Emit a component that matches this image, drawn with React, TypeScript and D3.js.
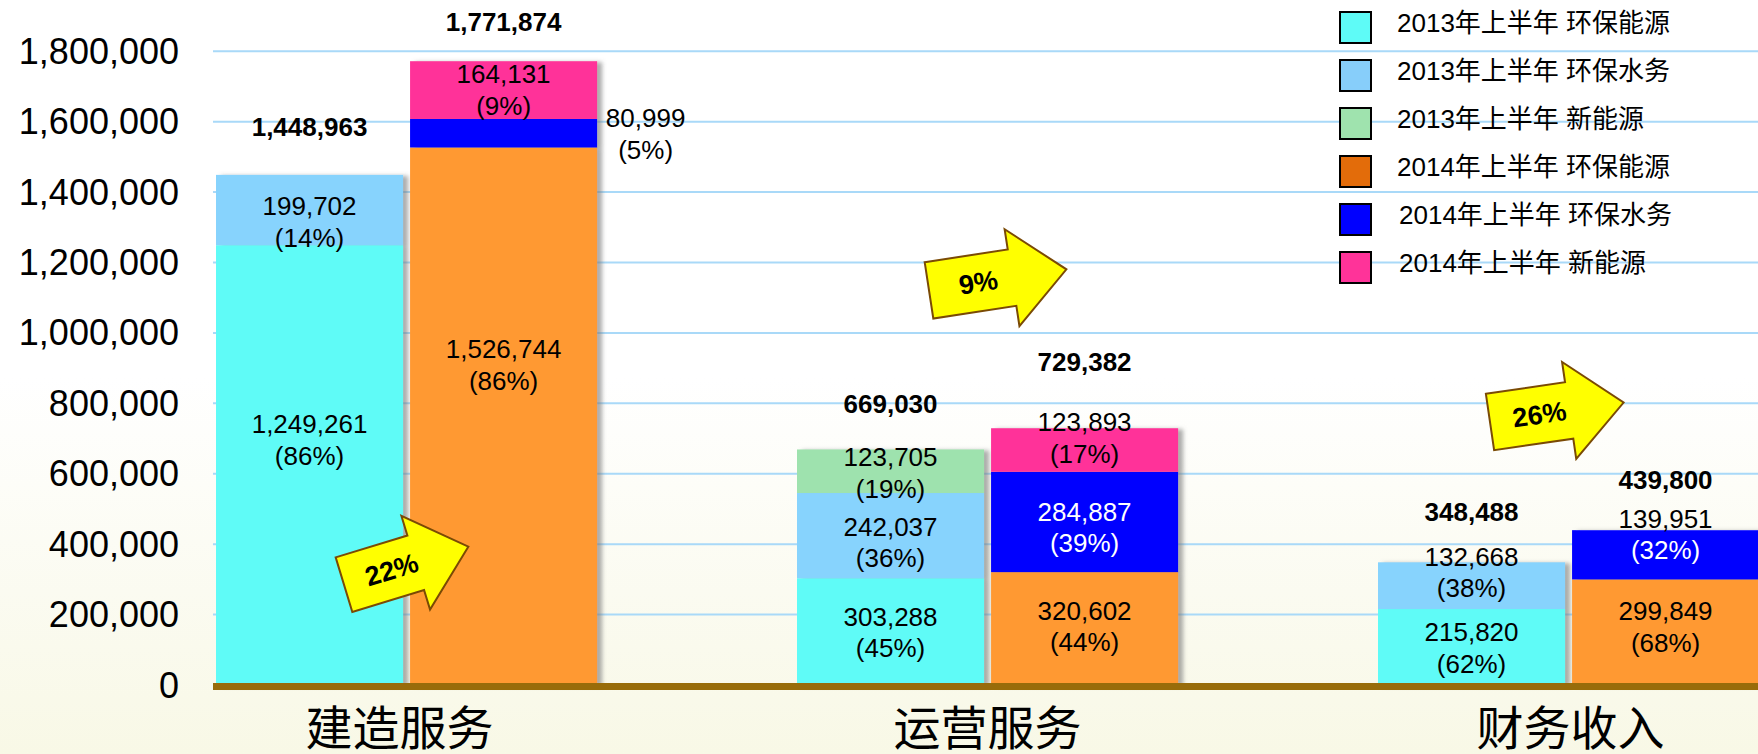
import React from 'react';
import * as d3 from 'd3';

// ---------- data ----------
const categories = ['建造服务', '运营服务', '财务收入'];
const years = ['2013', '2014'];

const env2013 = [1249261, 303288, 215820];
const water2013 = [199702, 242037, 132668];
const newEnergy2013 = [0, 123705, 0];
const env2014 = [1526744, 320602, 299849];
const water2014 = [80999, 284887, 139951];
const newEnergy2014 = [164131, 123893, 0];

const pctEnv2013 = [86, 45, 62];
const pctWater2013 = [14, 36, 38];
const pctNew2013 = [0, 19, 0];
const pctEnv2014 = [86, 44, 68];
const pctWater2014 = [5, 39, 32];
const pctNew2014 = [9, 17, 0];

const yTicks = [0, 200000, 400000, 600000, 800000, 1000000, 1200000, 1400000, 1600000, 1800000];

const legendLabels = [
  '2013年上半年 环保能源',
  '2013年上半年 环保水务',
  '2013年上半年 新能源',
  '2014年上半年 环保能源',
  '2014年上半年 环保水务',
  '2014年上半年 新能源',
];

// ---------- styling ----------
const W = 1758;
const H = 754;
const FONT = "'Liberation Sans', Arial, 'Noto Sans CJK SC', sans-serif";
const CJK = "'Noto Sans CJK SC', sans-serif";

const barColors = ['#5EFBF7', '#87D3FD', '#9EE2AE', '#FF9933', '#0000FF', '#FF3399'];
const legendColors = ['#5EFBF7', '#87CEFA', '#9FE3AE', '#E36C0A', '#0000FF', '#FF3399'];

// label offsets (px) from segment middle to first line baseline
const labelDy2013 = [[-32, -6, -6], [5, 0, -20], [0, -5, 0]];
const labelDy2014 = [[-58, -9, -12], [-6, -1, -27], [-7, -19, 0]];
const labelDx2014Water = [142, 0, 0];
const line1Colors2014Water = ['#000', '#fff', '#000'];
const line2Colors2014Water = ['#000', '#fff', '#fff'];
const totalDy = [[-39, -36, -41], [-30, -57, -41]];
const catLabelDx = [-7, 0, 2];

// growth arrows: offset from group start (px), anchor value, angle, shaft length
const arrowDx = [128, 132, 112];
const arrowVal = [285000, 1121000, 747000];
const arrowAngle = [-17, -8.7, -8.3];
const arrowShaft = [75, 84, 80];

const fmt = d3.format(',');

export default function App() {
  const y = d3.scaleLinear().domain([0, 1800000]).range([685, 51.3]);
  const step = 581;
  const x0 = d3
    .scaleBand<string>()
    .domain(categories)
    .range([216 - 0.172 * step, 216 - 0.172 * step + 3 * step])
    .paddingInner(0.344)
    .paddingOuter(0.172);
  const x1 = d3.scaleBand<string>().domain(years).range([0, x0.bandwidth()]).paddingInner(0.036);

  const keys = ['env', 'water', 'newE'];
  const rows2013 = categories.map((c, i) => ({ cat: c, env: env2013[i], water: water2013[i], newE: newEnergy2013[i] }));
  const rows2014 = categories.map((c, i) => ({ cat: c, env: env2014[i], water: water2014[i], newE: newEnergy2014[i] }));
  const stack = d3.stack<any>().keys(keys);
  const stacks = [stack(rows2013), stack(rows2014)];
  const pcts = [
    [pctEnv2013, pctWater2013, pctNew2013],
    [pctEnv2014, pctWater2014, pctNew2014],
  ];
  const totals = [
    categories.map((_, i) => env2013[i] + water2013[i] + newEnergy2013[i]),
    categories.map((_, i) => env2014[i] + water2014[i] + newEnergy2014[i]),
  ];

  const arrowPath = (L: number, s: number) => {
    const h = 57, Hh = 98;
    return `M0,${-h / 2}L${s},${-h / 2}L${s},${-Hh / 2}L${L},0L${s},${Hh / 2}L${s},${h / 2}L0,${h / 2}Z`;
  };

  return (
    <svg width={W} height={H} style={{ position: 'fixed', left: 0, top: 0, display: 'block' }} fontFamily={FONT}>
      <defs>
        <linearGradient id="bg" x1="0" y1="0" x2="0" y2="1">
          <stop offset="0" stopColor="#FFFFFF" />
          <stop offset="0.5" stopColor="#FFFFFF" />
          <stop offset="1" stopColor="#F8F8E6" />
        </linearGradient>
        <filter id="shadow" x="-10%" y="-10%" width="130%" height="130%">
          <feDropShadow dx="5" dy="1" stdDeviation="2" floodColor="#777" floodOpacity="0.6" />
        </filter>
      </defs>
      <rect x={0} y={0} width={W} height={H} fill="url(#bg)" />

      {/* gridlines */}
      {yTicks.slice(1).map((t) => (
        <line key={t} x1={213} x2={W} y1={y(t)} y2={y(t)} stroke="#A9D9F8" strokeWidth={2} />
      ))}

      {/* y tick labels */}
      {yTicks.map((t) => (
        <text key={t} x={179} y={y(t) + 12.5} textAnchor="end" fontSize={36} fill="#000">
          {fmt(t)}
        </text>
      ))}

      {/* bars */}
      {stacks.map((st, yi) =>
        categories.map((c, ci) => (
          <g key={`${yi}-${ci}`} filter="url(#shadow)">
            {st.map((s, si) => {
              const d = s[ci];
              if (d[1] - d[0] <= 0) return null;
              return (
                <rect
                  key={si}
                  x={(x0(c) as number) + (x1(years[yi]) as number)}
                  width={x1.bandwidth()}
                  y={y(d[1])}
                  height={y(d[0]) - y(d[1])}
                  fill={barColors[yi * 3 + si]}
                />
              );
            })}
          </g>
        ))
      )}

      {/* axis line */}
      <rect x={213} y={683} width={W - 213} height={7} fill="#986C0A" />

      {/* segment labels */}
      {stacks.map((st, yi) =>
        categories.map((c, ci) =>
          st.map((s, si) => {
            const d = s[ci];
            const v = d[1] - d[0];
            if (v <= 0) return null;
            const cx = (x0(c) as number) + (x1(years[yi]) as number) + x1.bandwidth() / 2 + (yi === 1 && si === 1 ? labelDx2014Water[ci] : 0);
            const dy = yi === 0 ? labelDy2013[si][ci] : labelDy2014[si][ci];
            const by = y((d[0] + d[1]) / 2) + dy;
            const c1 = yi === 1 && si === 1 ? line1Colors2014Water[ci] : '#000';
            const c2 = yi === 1 && si === 1 ? line2Colors2014Water[ci] : '#000';
            return (
              <g key={`l-${yi}-${ci}-${si}`} fontSize={26} textAnchor="middle">
                <text x={cx} y={by} fill={c1}>{fmt(v)}</text>
                <text x={cx} y={by + 31.5} fill={c2}>{`(${pcts[yi][si][ci]}%)`}</text>
              </g>
            );
          })
        )
      )}

      {/* totals */}
      {totals.map((tt, yi) =>
        tt.map((t, ci) => (
          <text
            key={`t-${yi}-${ci}`}
            x={(x0(categories[ci]) as number) + (x1(years[yi]) as number) + x1.bandwidth() / 2}
            y={y(t) + totalDy[yi][ci]}
            textAnchor="middle"
            fontSize={26}
            fontWeight="bold"
            fill="#000"
          >
            {fmt(t)}
          </text>
        ))
      )}

      {/* growth arrows */}
      {categories.map((c, ci) => {
        const g = Math.round((totals[1][ci] / totals[0][ci] - 1) * 100);
        const ax = (x0(c) as number) + arrowDx[ci];
        const ay = y(arrowVal[ci]);
        const L = arrowShaft[ci] + 55;
        return (
          <g key={`a-${ci}`} transform={`translate(${ax},${ay}) rotate(${arrowAngle[ci]})`}>
            <path d={arrowPath(L, arrowShaft[ci])} fill="#FFFF00" stroke="#7A4A05" strokeWidth={2} strokeLinejoin="miter" />
            <text x={50} y={9} textAnchor="middle" fontSize={27} fontWeight="bold" fill="#000">
              {`${g}%`}
            </text>
          </g>
        );
      })}

      {/* category labels */}
      {categories.map((c, ci) => (
        <text
          key={c}
          x={(x0(c) as number) + x0.bandwidth() / 2 + catLabelDx[ci]}
          y={745}
          textAnchor="middle"
          fontSize={47}
          fontFamily={CJK}
          fill="#000"
        >
          {c}
        </text>
      ))}

      {/* legend */}
      {legendLabels.map((l, i) => (
        <g key={l} transform={`translate(1339,${11 + i * 48})`}>
          <rect x={1} y={1} width={31} height={31} fill={legendColors[i]} stroke="#000" strokeWidth={2} />
          <text x={58 + (i >= 4 ? 2 : 0)} y={21} fontSize={26} fill="#000">
            {l}
          </text>
        </g>
      ))}
    </svg>
  );
}
